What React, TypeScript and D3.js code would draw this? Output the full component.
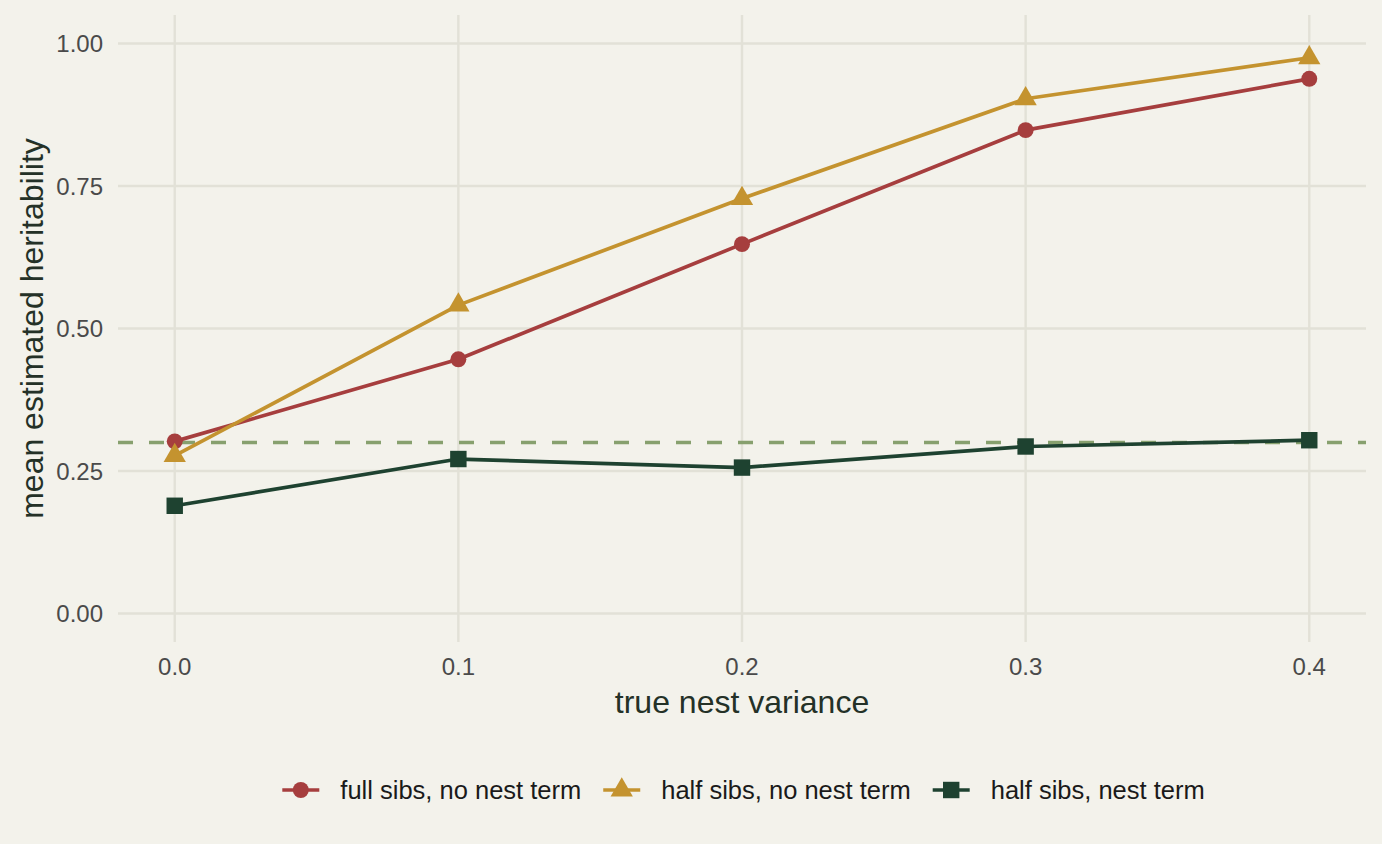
import React, { useRef, useEffect } from 'react';
import * as d3 from 'd3';

// values
const nestVariance = [0, 0.1, 0.2, 0.3, 0.4];
const fullSibsNoNest = [0.302, 0.446, 0.648, 0.848, 0.938];
const halfSibsNoNest = [0.277, 0.541, 0.728, 0.903, 0.975];
const halfSibsNest = [0.189, 0.271, 0.256, 0.293, 0.304];
const trueHeritability = 0.3;

const xTicks = [0, 0.1, 0.2, 0.3, 0.4];
const yTicks = [0, 0.25, 0.5, 0.75, 1.0];

const seriesNames = ['full sibs, no nest term', 'half sibs, no nest term', 'half sibs, nest term'];
const seriesValues = [fullSibsNoNest, halfSibsNoNest, halfSibsNest];
const seriesColors = ['#a63e3e', '#c4932f', '#1e4230'];
const seriesSymbols = [d3.symbolCircle, d3.symbolTriangle, d3.symbolSquare];
const symbolSizes = [200, 215, 270];

const W = 1382;
const H = 844;
const FONT = '"Liberation Sans", Arial, Helvetica, sans-serif';

const App: React.FC = () => {
    const ref = useRef<SVGSVGElement>(null);

    useEffect(() => {
        if (!ref.current) return;
        const svg = d3.select(ref.current);
        svg.selectAll('*').remove();

        const panel = { left: 118, right: 1366, top: 15, bottom: 642 };

        // ggplot-style 5% expansion
        const x = d3.scaleLinear()
            .domain([-0.02, 0.42])
            .range([panel.left, panel.right]);
        const y = d3.scaleLinear()
            .domain([-0.05, 1.05])
            .range([panel.bottom, panel.top]);

        svg.append('rect')
            .attr('width', W).attr('height', H)
            .attr('fill', '#f3f2eb');

        // grid
        const grid = svg.append('g').attr('stroke', '#e2e1d7').attr('stroke-width', 2.4);
        grid.selectAll('line.h')
            .data(yTicks)
            .enter().append('line')
            .attr('x1', panel.left).attr('x2', panel.right)
            .attr('y1', d => y(d)).attr('y2', d => y(d));
        grid.selectAll('line.v')
            .data(xTicks)
            .enter().append('line')
            .attr('x1', d => x(d)).attr('x2', d => x(d))
            .attr('y1', panel.top).attr('y2', panel.bottom);

        // reference line
        svg.append('line')
            .attr('x1', panel.left).attr('x2', panel.right)
            .attr('y1', y(trueHeritability)).attr('y2', y(trueHeritability))
            .attr('stroke', '#87a06e')
            .attr('stroke-width', 3.5)
            .attr('stroke-dasharray', '15 16');

        // tick labels
        svg.append('g').selectAll('text')
            .data(yTicks)
            .enter().append('text')
            .attr('x', 103)
            .attr('y', d => y(d))
            .attr('dy', '0.36em')
            .attr('text-anchor', 'end')
            .attr('font-family', FONT).attr('font-size', 24)
            .attr('fill', '#4a4a4a')
            .text(d => d3.format('.2f')(d));

        svg.append('g').selectAll('text')
            .data(xTicks)
            .enter().append('text')
            .attr('x', d => x(d))
            .attr('y', 675)
            .attr('text-anchor', 'middle')
            .attr('font-family', FONT).attr('font-size', 24)
            .attr('fill', '#4a4a4a')
            .text(d => d3.format('.1f')(d));

        // axis titles
        svg.append('text')
            .attr('x', (panel.left + panel.right) / 2)
            .attr('y', 713)
            .attr('text-anchor', 'middle')
            .attr('font-family', FONT).attr('font-size', 32)
            .attr('fill', '#243127')
            .text('true nest variance');

        svg.append('text')
            .attr('transform', `translate(43,${(panel.top + panel.bottom) / 2}) rotate(-90)`)
            .attr('text-anchor', 'middle')
            .attr('font-family', FONT).attr('font-size', 32)
            .attr('fill', '#243127')
            .text('mean estimated heritability');

        // series
        const line = d3.line<number>()
            .x((_, i) => x(nestVariance[i]))
            .y(d => y(d));

        seriesValues.forEach((vals, s) => {
            svg.append('path')
                .datum(vals)
                .attr('fill', 'none')
                .attr('stroke', seriesColors[s])
                .attr('stroke-width', 3.7)
                .attr('stroke-linejoin', 'round')
                .attr('d', line);

            svg.append('g').selectAll('path')
                .data(vals)
                .enter().append('path')
                .attr('transform', (d, i) => `translate(${x(nestVariance[i])},${y(d)})`)
                .attr('fill', seriesColors[s])
                .attr('d', d3.symbol().type(seriesSymbols[s]).size(symbolSizes[s])());
        });

        // legend
        const legend = svg.append('g');
        const items = seriesNames.map((name, s) => {
            const g = legend.append('g');
            g.append('line')
                .attr('x1', 0).attr('x2', 37)
                .attr('y1', 0).attr('y2', 0)
                .attr('stroke', seriesColors[s])
                .attr('stroke-width', 3.7);
            g.append('path')
                .attr('transform', 'translate(18.5,0)')
                .attr('fill', seriesColors[s])
                .attr('d', d3.symbol().type(seriesSymbols[s]).size(symbolSizes[s])());
            const t = g.append('text')
                .attr('x', 58)
                .attr('dy', '0.36em')
                .attr('font-family', FONT).attr('font-size', 25.5)
                .attr('fill', '#1a1a1a')
                .text(name);
            const w = 58 + (t.node() as SVGTextElement).getComputedTextLength();
            return { g, w };
        });
        const gap = 22;
        const total = d3.sum(items, d => d.w) + gap * (items.length - 1);
        let cx = (panel.left + panel.right) / 2 - total / 2 + 1.5;
        items.forEach(it => {
            it.g.attr('transform', `translate(${cx},790)`);
            cx += it.w + gap;
        });
    }, []);

    return (
        <div style={{ position: 'absolute', left: 0, top: 0 }}>
            <svg ref={ref} width={W} height={H} viewBox={`0 0 ${W} ${H}`} style={{ display: 'block' }} />
        </div>
    );
};

export default App;
